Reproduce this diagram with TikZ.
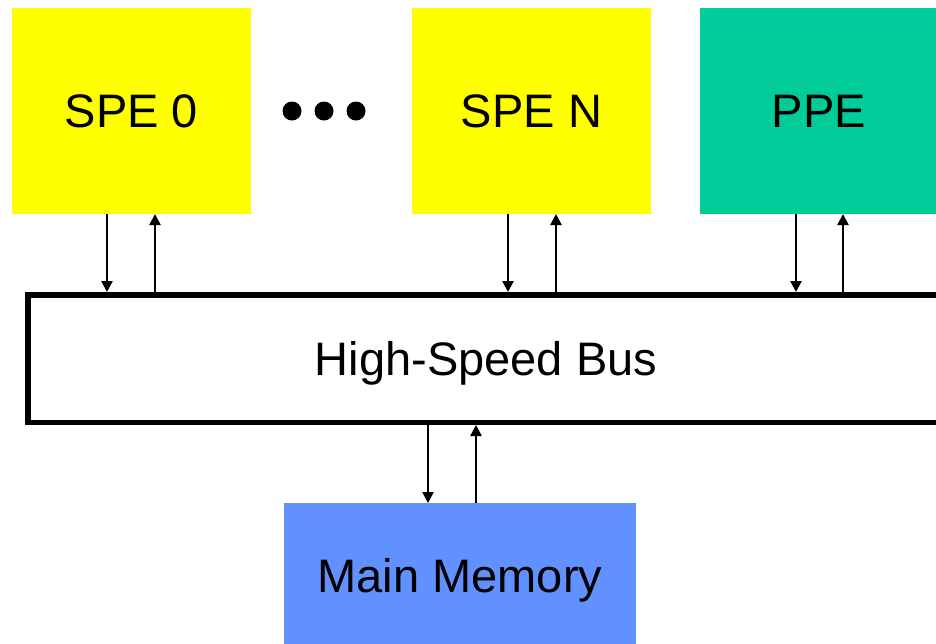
\documentclass[tikz,border=0pt]{standalone}
\usepackage{fontspec}
\setmainfont{Liberation Sans}
\usetikzlibrary{arrows.meta}
\definecolor{speyellow}{HTML}{FFFF00}
\definecolor{ppegreen}{HTML}{00CC99}
\definecolor{memblue}{HTML}{6190FF}
\begin{document}
\begin{tikzpicture}[x=1pt,y=-1pt,
  box/.style={rectangle, draw=none, inner sep=0pt, outer sep=0pt, text height=33pt, text depth=0pt, font=\fontsize{47}{50}\selectfont},
  link/.style={line width=2.4pt, -{Triangle[length=11pt,width=11pt]}},
  dot/.style={circle, fill=black, inner sep=0pt, minimum size=19pt}]
\useasboundingbox (0,0) rectangle (936,643);
\fill[white] (0,0) rectangle (936,643);
\node[box, fill=speyellow, minimum width=239pt, minimum height=206pt] (spe0) at (131.5,111) {SPE 0};
\node[box, fill=speyellow, minimum width=239pt, minimum height=206pt] (spen) at (531.5,111) {SPE N};
\node[box, fill=ppegreen, minimum width=238pt, minimum height=206pt] (ppe) at (819,111) {PPE};
\node[box, fill=memblue, minimum width=352pt, minimum height=145pt] (mem) at (460,575.5) {Main Memory};
\node[box, draw=black, line width=5.5pt, outer sep=2.75pt, fill=white, minimum width=916.5pt, minimum height=127.5pt] (bus) at (486,358.5) {High-Speed Bus};
\node[dot] (d1) at (292,111) {};
\node[dot] (d2) at (324,111) {};
\node[dot] (d3) at (356,111) {};
% SPE 0
\draw[link] ([xshift=-24.5pt]spe0.south) -- ([xshift=-24.5pt]spe0.south |- bus.north);
\draw[link] ([xshift=23.5pt]spe0.south |- bus.north) -- ([xshift=23.5pt]spe0.south);
% SPE N
\draw[link] ([xshift=-23.5pt]spen.south) -- ([xshift=-23.5pt]spen.south |- bus.north);
\draw[link] ([xshift=24.5pt]spen.south |- bus.north) -- ([xshift=24.5pt]spen.south);
% PPE
\draw[link] ([xshift=-23pt]ppe.south) -- ([xshift=-23pt]ppe.south |- bus.north);
\draw[link] ([xshift=24pt]ppe.south |- bus.north) -- ([xshift=24pt]ppe.south);
% Memory
\draw[link] ([xshift=-32pt]mem.north |- bus.south) -- ([xshift=-32pt]mem.north);
\draw[link] ([xshift=16pt]mem.north) -- ([xshift=16pt]mem.north |- bus.south);
\end{tikzpicture}
\end{document}
